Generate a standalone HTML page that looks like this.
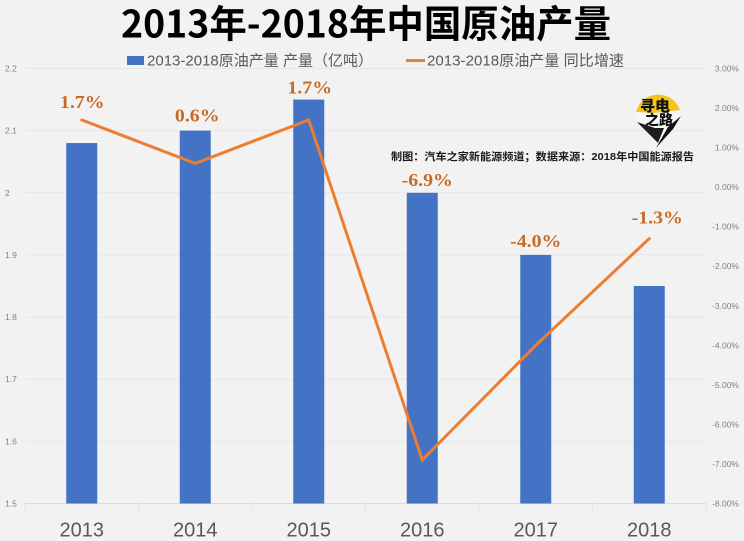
<!DOCTYPE html>
<html lang="zh">
<head>
<meta charset="utf-8">
<title>2013年-2018年中国原油产量</title>
<style>
html,body{margin:0;padding:0;background:#f2f2f2;}
svg{display:block;}
text{font-family:"Liberation Sans","Noto Sans CJK SC",sans-serif;}
</style>
</head>
<body>
<svg id="chart" width="744" height="541" viewBox="0 0 744 541" xmlns="http://www.w3.org/2000/svg">
  <rect x="0" y="0" width="744" height="541" fill="#f2f2f2"/>
  <g id="grid"></g>
  <g id="bars"></g>
  <g id="line"></g>
  <g id="axes"></g>
  <g id="labels"></g>

  <text x="366" y="37.500" text-anchor="middle" font-size="38" font-weight="700" fill="#000000" style="font-family:'Noto Sans CJK SC',sans-serif" textLength="490" lengthAdjust="spacingAndGlyphs">2013年-2018年中国原油产量</text>

  <g>
    <rect x="127" y="56" width="17" height="9" fill="#4472c4"/>
    <text x="147" y="65.500" font-size="15" fill="#595959" textLength="226" lengthAdjust="spacingAndGlyphs">2013-2018原油产量 产量（亿吨）</text>
    <rect x="406" y="59" width="19" height="3" fill="#ed7d31"/>
    <text x="427" y="65.500" font-size="15" fill="#595959" textLength="197" lengthAdjust="spacingAndGlyphs">2013-2018原油产量 同比增速</text>
  </g>

  <text x="391" y="160" font-size="10.500" font-weight="700" fill="#1a1a1a" textLength="303" lengthAdjust="spacingAndGlyphs">制图：汽车之家新能源频道；数据来源：2018年中国能源报告</text>

  <g>
    <path d="M635 118 A23 23 0 0 1 681 118 L658 148 Z" fill="#f7f7f7"/>
    <path d="M636 112 A23 23 0 0 1 680 110 L655 113 Z" fill="#f6c21c"/>
    <path d="M637 122 L655 128 L664 128 L658 143 Z" fill="#1e1e1e"/>
    <path d="M681 116 L668 127 L656 148 L673 129 Z" fill="#111111"/>
    <text x="655" y="111" text-anchor="middle" font-size="15" font-weight="900" fill="#111111" style="font-family:'Noto Sans CJK SC',sans-serif">寻电</text>
    <text x="659" y="125" text-anchor="middle" font-size="14" font-weight="900" fill="#111111" style="font-family:'Noto Sans CJK SC',sans-serif">之路</text>
  </g>
</svg>
<script>
var categories = ['2013', '2014', '2015', '2016', '2017', '2018'];
var outputValues = [2.08, 2.1, 2.15, 2.0, 1.9, 1.85];
var growthValues = [1.7, 0.6, 1.7, -6.9, -4.0, -1.3];
var growthLabels = ['1.7%', '0.6%', '1.7%', '-6.9%', '-4.0%', '-1.3%'];
var leftTicks = [1.5, 1.6, 1.7, 1.8, 1.9, 2, 2.1, 2.2];
var rightTicks = [-8, -7, -6, -5, -4, -3, -2, -1, 0, 1, 2, 3];

var NS = 'http://www.w3.org/2000/svg';
var plotLeft = 25, plotRight = 706, plotTop = 68.5, plotBottom = 503.5;
var leftMin = 1.5, leftMax = 2.2, rightMin = -8, rightMax = 3;
var barWidth = 31;

function xCenter(i) { return plotLeft + (plotRight - plotLeft) * (i + 0.5) / categories.length; }
function xEdge(i) { return plotLeft + (plotRight - plotLeft) * i / categories.length; }
function yLeft(v) { return plotBottom - (v - leftMin) / (leftMax - leftMin) * (plotBottom - plotTop); }
function yRight(v) { return plotBottom - (v - rightMin) / (rightMax - rightMin) * (plotBottom - plotTop); }
function make(tag, attrs, parent, txt) {
  var el = document.createElementNS(NS, tag);
  for (var k in attrs) el.setAttribute(k, attrs[k]);
  if (txt !== undefined) el.textContent = txt;
  parent.appendChild(el);
  return el;
}

var grid = document.getElementById('grid');
var axes = document.getElementById('axes');
var bars = document.getElementById('bars');
var lineG = document.getElementById('line');
var labels = document.getElementById('labels');

leftTicks.forEach(function (t) {
  var y = yLeft(t);
  var g = make('line', { x1: plotLeft, x2: plotRight, y1: y, y2: y, stroke: t === leftMin ? '#dcdcdc' : '#e6e6e6', 'stroke-width': 1 }, grid);
  
  
  var l = make('text', { x: 5, y: y + 3, 'font-size': 8.5, fill: '#808080' }, axes, String(t));
  
  
});

rightTicks.forEach(function (t) {
  var l = make('text', { x: 739, y: yRight(t) + 3, 'font-size': 8.5, fill: '#808080', 'text-anchor': 'end' }, axes, t.toFixed(2) + '%');
  
  
});

for (var e = 0; e <= categories.length; e++) {
  var tk = make('line', { x1: xEdge(e), x2: xEdge(e), y1: plotBottom, y2: plotBottom + 7, stroke: '#e2e2e2', 'stroke-width': 1 }, axes);
  
  
}

categories.forEach(function (c, i) {
  var top = yLeft(outputValues[i]);
  var b = make('rect', { x: xCenter(i) - barWidth / 2, y: top, width: barWidth, height: plotBottom - top, fill: '#4472c4' }, bars);
  
  
  var t = make('text', { x: xCenter(i), y: 536.5, 'font-size': 20, fill: '#595959', 'text-anchor': 'middle' }, axes, c);
  
  
});

var pts = growthValues.map(function (v, i) { return xCenter(i) + ',' + yRight(v); }).join(' ');
var pl = make('polyline', { points: pts, fill: 'none', stroke: '#ed7d31', 'stroke-width': 3, 'stroke-linejoin': 'miter', 'stroke-linecap': 'round' }, lineG);



/* Manual label placement relative to each mark, as placed in the reference. */
function labelShift(i) {
  switch (i) {
    case 0: return { dx: 0.5, dy: -12 };
    case 1: return { dx: 2, dy: -9 };
    case 2: return { dx: 1, dy: -6 };
    case 3: return { dx: 5, dy: -7 };
    case 4: return { dx: 0, dy: -8 };
    default: return { dx: 8, dy: -15 };
  }
}

growthValues.forEach(function (v, i) {
  var anchor = Math.min(yRight(v), yLeft(outputValues[i]));
  var s = labelShift(i);
  var lb = make('text', { x: xCenter(i) + s.dx, y: anchor + s.dy, 'font-size': 18, 'font-weight': 700, fill: '#c96a24', 'text-anchor': 'middle', style: 'font-family:"Liberation Serif",serif' }, labels, growthLabels[i]);
  
  
  lb.setAttribute('textLength', (lb.getComputedTextLength() * 1.1).toFixed(1));
  lb.setAttribute('lengthAdjust', 'spacingAndGlyphs');
});
</script>
</body>
</html>
